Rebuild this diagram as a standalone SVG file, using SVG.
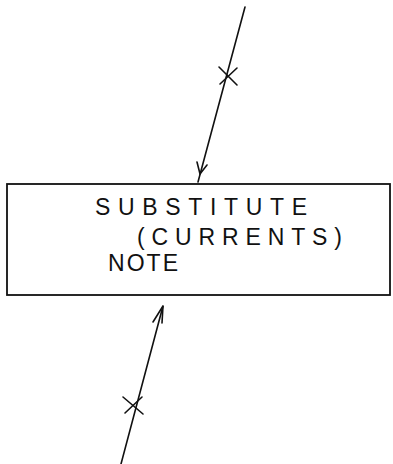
<svg xmlns="http://www.w3.org/2000/svg" width="393" height="464" viewBox="0 0 393 464">
<style>
.ln{stroke:#111;stroke-width:1.6;fill:none;stroke-linecap:round}
.box{stroke:#111;stroke-width:1.8;fill:#fff}
.t{font-family:"Liberation Sans",Arial,sans-serif;font-size:23px;fill:#111;font-weight:normal}
</style>
<rect width="393" height="464" fill="#fff"/>
<g id="connectors">
<g id="c-top">
<path class="ln" d="M245,7 L198,182"/>
<path class="ln" d="M197,162 L200,174 L207,165"/>
<path class="ln" d="M219,67 L237,85 M220,84 L237,68"/>
</g>
<g id="c-bottom">
<path class="ln" d="M121,464 L163,306"/>
<path class="ln" d="M153,322 L163,306 L162,323"/>
<path class="ln" d="M123,397 L143,414 M125,413 L142,397"/>
</g>
</g>
<g id="note">
<rect class="box" x="7" y="184" width="383" height="111"/>
<text class="t" x="95" y="215" textLength="212" lengthAdjust="spacing">SUBSTITUTE</text>
<text class="t" x="137" y="245" textLength="205" lengthAdjust="spacing">(CURRENTS)</text>
<text class="t" x="108" y="271" textLength="70" lengthAdjust="spacing">NOTE</text>
</g>
</svg>
